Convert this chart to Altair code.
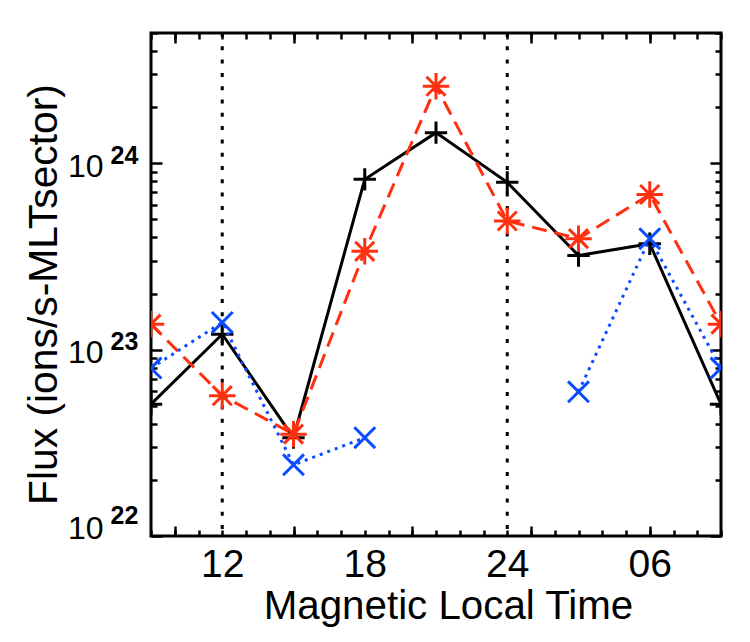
import altair as alt
import pandas as pd

# Magnetic local time of each 3-hour sector (33 h wraps back to 09 MLT)
mlt = [9, 12, 15, 18, 21, 24, 27, 30, 33]

# Ion flux per MLT sector (ions/s-MLTsector)
flux_total = [5.1e22, 1.21e23, 3.37e22, 8.2e23, 1.46e24, 7.9e23, 3.2e23, 3.7e23, 5.1e22]
flux_red = [1.37e23, 5.66e22, 3.52e22, 3.37e23, 2.59e24, 4.9e23, 3.94e23, 6.8e23, 1.37e23]
flux_blue = [7.96e22, 1.40e23, 2.41e22, 3.37e22, None, None, 5.94e22, 3.94e23, 7.96e22]

# Reference meridians (noon and midnight)
marker_mlt = [12, 24]

# Axis tick positions and labels
x_major = [10, 15, 20, 25, 30]
x_minor = list(range(9, 34))
x_label_pos = [12, 18, 24, 30]
y_decades = [1e22, 1e23, 1e24]
y_minor = [k * 10.0 ** e for e in (22, 23, 24) for k in range(2, 10) if k * 10.0 ** e <= 5e24]

RED = "#ff3010"
BLUE = "#0a4cff"
FONT = "Liberation Sans"

PLUS = "M-1,0L1,0M0,-1L0,1"
STAR = "M-1,0L1,0M0,-1L0,1M-0.72,-0.72L0.72,0.72M-0.72,0.72L0.72,-0.72"
CROSS = "M-0.72,-0.72L0.72,0.72M-0.72,0.72L0.72,-0.72"

df_total = pd.DataFrame({"mlt": mlt, "flux": flux_total})
df_red = pd.DataFrame({"mlt": mlt, "flux": flux_red})
rows, seg = [], 0
for m, v in zip(mlt, flux_blue):
    if v is None:
        seg += 1
        continue
    rows.append({"mlt": m, "flux": v, "seg": seg})
df_blue = pd.DataFrame(rows)
df_marks = pd.DataFrame({"mlt": marker_mlt})

x_scale = alt.Scale(domain=[9, 33], nice=False, zero=False)
y_scale = alt.Scale(type="log", domain=[1e22, 5e24], nice=False)


def tick_axis(orient, values, size):
    # inward-pointing ticks: pull the axis line inside by the tick length
    return alt.Axis(orient=orient, values=values, tickSize=size, offset=-size,
                    labels=False, domain=False, grid=False, title=None,
                    tickColor="black", tickWidth=2.5)


x_labels = alt.Axis(orient="bottom", values=x_label_pos, ticks=False, tickSize=0,
                    domain=False, grid=False, labelPadding=9, labelFontSize=39,
                    labelFont=FONT, labelColor="black",
                    labelExpr="datum.value == 30 ? '06' : format(datum.value, 'd')",
                    title="Magnetic Local Time", titleFont=FONT, titleFontSize=40.3,
                    titleFontWeight="normal", titleColor="black", titleX=297, titleY=82,
                    titleAlign="center", titleBaseline="alphabetic")

y_base = alt.Axis(orient="left", values=y_decades, ticks=False, tickSize=0,
                  domain=False, grid=False, labelPadding=48, labelFontSize=32,
                  labelFont=FONT, labelColor="black", labelAlign="right",
                  labelBaseline="middle", labelExpr="'10'",
                  labelOffset={"condition": {"test": "datum.value < 5e22", "value": -8}, "value": 3},
                  title="Flux (ions/s-MLTsector)", titleFont=FONT, titleFontSize=40.8,
                  titleFontWeight="normal", titleColor="black", titleAngle=270,
                  titleX=-95, titleY=261, titleAlign="center", titleBaseline="alphabetic")

y_exp = alt.Axis(orient="left", values=y_decades, ticks=False, tickSize=0,
                 domain=False, grid=False, labelPadding=41, labelFontSize=25,
                 labelFontWeight="bold", labelFont=FONT, labelColor="black",
                 labelAlign="left", labelBaseline="middle",
                 labelExpr="format(log(datum.value) / LN10, '.0f')",
                 labelOffset={"condition": {"test": "datum.value < 5e22", "value": -21}, "value": -8},
                 title=None)

rules = alt.Chart(df_marks).mark_rule(color="black", strokeWidth=3, strokeDash=[4, 9.3]).encode(
    x=alt.X("mlt:Q", scale=x_scale, axis=tick_axis("bottom", x_major, 10)),
)

black_line = alt.Chart(df_total).mark_line(color="black", strokeWidth=3, clip=True).encode(
    x=alt.X("mlt:Q", scale=x_scale, axis=tick_axis("top", x_major, 10)),
    y=alt.Y("flux:Q", scale=y_scale, axis=tick_axis("left", y_decades, 11)),
)
black_pts = alt.Chart(df_total).mark_point(shape=PLUS, size=500, strokeWidth=3, color="black",
                                           filled=False, opacity=1, clip=True).encode(
    x=alt.X("mlt:Q", scale=x_scale, axis=tick_axis("bottom", x_minor, 6)),
    y=alt.Y("flux:Q", scale=y_scale, axis=tick_axis("left", y_minor, 6)),
)

red_line = alt.Chart(df_red).mark_line(color=RED, strokeWidth=3, strokeDash=[15, 8], clip=True).encode(
    x=alt.X("mlt:Q", scale=x_scale, axis=tick_axis("top", x_minor, 6)),
    y=alt.Y("flux:Q", scale=y_scale, axis=tick_axis("right", y_decades, 11)),
)
red_pts = alt.Chart(df_red).mark_point(shape=STAR, size=700, strokeWidth=3, color=RED,
                                       filled=False, opacity=1, clip=True).encode(
    x=alt.X("mlt:Q", scale=x_scale, axis=x_labels),
    y=alt.Y("flux:Q", scale=y_scale, axis=tick_axis("right", y_minor, 6)),
)

blue_line = alt.Chart(df_blue).mark_line(color=BLUE, strokeWidth=3, strokeDash=[3, 5], clip=True).encode(
    x=alt.X("mlt:Q", scale=x_scale, axis=None),
    y=alt.Y("flux:Q", scale=y_scale, axis=y_base),
    detail="seg:N",
)
blue_pts = alt.Chart(df_blue).mark_point(shape=CROSS, size=841, strokeWidth=3, color=BLUE,
                                         filled=False, opacity=1, clip=True).encode(
    x=alt.X("mlt:Q", scale=x_scale, axis=None),
    y=alt.Y("flux:Q", scale=y_scale, axis=y_exp),
)

chart = alt.layer(
    rules, black_line, black_pts, red_line, red_pts, blue_line, blue_pts
).resolve_axis(
    x="independent", y="independent"
).properties(
    width=570, height=503,
    padding={"left": 151, "top": 33, "right": 29, "bottom": 106},
    autosize=alt.AutoSizeParams(type="none"),
    background="white",
).configure_view(stroke="black", strokeWidth=3)

chart.save("out.html", embed_options={"renderer": "svg", "actions": False})
